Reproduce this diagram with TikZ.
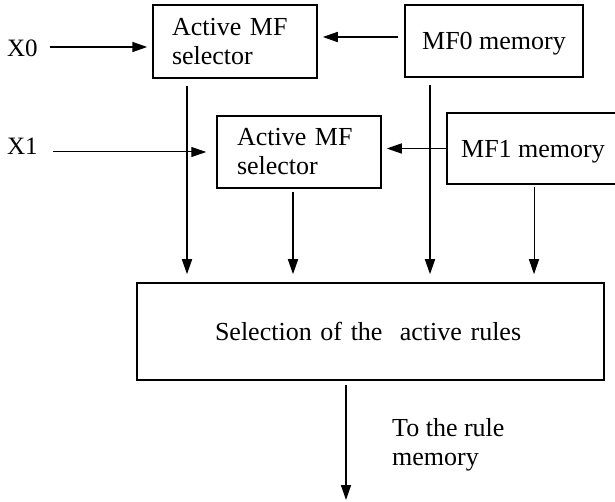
\documentclass[tikz,border=0pt]{standalone}
\usepackage{fontspec}
\setmainfont{Liberation Serif}
\usetikzlibrary{arrows.meta}
\newcommand\boxfont{\fontsize{26}{29}\selectfont}
\newcommand\xfont{\fontsize{25}{29}\selectfont}
\begin{document}
\begin{tikzpicture}[x=1pt,y=-1pt,
  box/.style={draw,line width=1.5pt,inner sep=0pt,font=\boxfont},
  arr/.style={line width=1.5pt,-{Triangle[length=15pt,width=10pt]}},
  thinarr/.style={arr,line width=1pt},
  lbl/.style={inner sep=0pt,font=\boxfont}]
\useasboundingbox (0,0) rectangle (615,502);
\node[box,minimum width=164pt,minimum height=73pt,text width=126pt,align=left] (a0) at (235,41.5) {Active MF\\selector};
\node[box,minimum width=178pt,minimum height=72pt,text depth=0pt] (m0) at (494,41) {MF0 memory};
\node[box,minimum width=164pt,minimum height=72pt,text width=124pt,align=left] (a1) at (299,152) {Active MF\\selector};
\node[box,minimum width=172pt,minimum height=71pt,text depth=0pt] (m1) at (533,148.5) {MF1 memory};
\node[box,minimum width=467pt,minimum height=97pt,text width=311pt,align=left] (sel) at (370.5,331.5) {Selection of the\ \ active rules};
\node[lbl,anchor=base west,font=\xfont] (x0) at (7,57) {X0};
\node[lbl,anchor=base west,font=\xfont] (x1) at (7,155) {X1};
\node[lbl,anchor=north west,align=left] (dest) at (392,418) {To the rule\\memory};
% horizontal inputs
\coordinate (p0) at (50,47);
\draw[arr,shorten >=5pt] (p0) -- (p0 -| a0.west);
\coordinate (p1) at (53,152);
\draw[thinarr,shorten >=10pt] (p1) -- (p1 -| a1.west);
\coordinate (q0) at (398,37);
\draw[arr,shorten >=5pt] (q0) -- (q0 -| a0.east);
\draw[arr,shorten >=5pt] (m1.west) -- (m1.west -| a1.east);
% verticals
\coordinate (v0) at (187,86);
\draw[arr,shorten >=8pt] (v0) -- (v0 |- sel.north);
\coordinate (v1) at (293,192);
\draw[arr,shorten >=8pt] (v1) -- (v1 |- sel.north);
\coordinate (v2) at (430,85);
\draw[arr,shorten >=8pt] (v2) -- (v2 |- sel.north);
\coordinate (v3) at (534,187);
\draw[thinarr,shorten >=8pt] (v3) -- (v3 |- sel.north);
\coordinate (v4) at (346,385);
\coordinate (end) at (346,500);
\draw[arr] (v4) -- (end);
\end{tikzpicture}
\end{document}
